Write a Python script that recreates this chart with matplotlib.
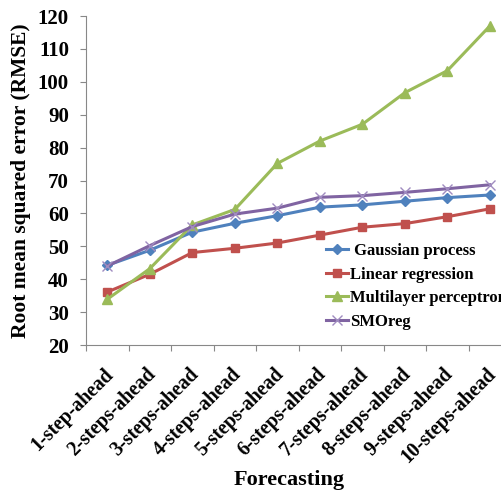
import matplotlib
matplotlib.use("Agg")
import matplotlib.pyplot as plt
from matplotlib.transforms import ScaledTranslation

plt.rcParams['font.family'] = ['Liberation Serif', 'DejaVu Serif']
plt.rcParams['font.weight'] = 'bold'

steps = ["1-step-ahead", "2-steps-ahead", "3-steps-ahead", "4-steps-ahead",
         "5-steps-ahead", "6-steps-ahead", "7-steps-ahead", "8-steps-ahead",
         "9-steps-ahead", "10-steps-ahead"]
gaussian = [44.2, 48.8, 54.3, 57.0, 59.3, 61.9, 62.6, 63.7, 64.8, 65.6]
linear = [36.1, 41.5, 48.1, 49.4, 51.0, 53.4, 55.8, 56.9, 59.0, 61.4]
mlp = [33.9, 43.2, 56.5, 61.2, 75.2, 82.0, 87.1, 96.7, 103.4, 117.0]
smoreg = [44.0, 50.2, 56.0, 59.8, 61.6, 64.9, 65.4, 66.4, 67.5, 68.7]

fig = plt.figure(figsize=(5.02, 4.93), dpi=100)
ax = fig.add_axes([0.1713, 0.3002, 0.847, 0.6673])

x = range(len(steps))
ax.plot(x, gaussian, color="#4F81BD", lw=2.2, marker="D", ms=5, label=" Gaussian process")
ax.plot(x, linear, color="#C0504D", lw=2.2, marker="s", ms=6, label="Linear regression")
ax.plot(x, mlp, color="#9BBB59", lw=2.2, marker="^", ms=7, label="Multilayer perceptron")
ax.plot(x, smoreg, color="#8064A2", lw=2.2, marker="x", ms=7, mew=1,
        mec="#A08CC0", label="SMOreg")

ax.set_xlim(-0.5, len(steps) - 0.5)
ax.set_ylim(20, 120)
ax.set_yticks(range(20, 121, 10))
# category boundaries get the tick marks, centres get the labels
ax.set_xticks([i - 0.5 for i in range(len(steps) + 1)])
ax.set_xticklabels([])
ax.set_xticks(list(x), minor=True)
ax.set_xticklabels(steps, minor=True, rotation=45, ha="right", rotation_mode="anchor",
                   fontsize=14.3, fontweight="bold")
ax.tick_params(axis="x", which="minor", length=0, pad=9)
ax.tick_params(axis="x", which="major", length=4.3, color="#888888")
ax.tick_params(axis="y", length=4.3, color="#888888", labelsize=15, pad=8)
for lab in ax.get_yticklabels():
    lab.set_fontweight("bold")
shift = ScaledTranslation(-4 / 100, -7 / 100, fig.dpi_scale_trans)
for lab in ax.get_xticklabels(minor=True):
    lab.set_transform(lab.get_transform() + shift)

for side in ["top", "right"]:
    ax.spines[side].set_visible(False)
for side in ["left", "bottom"]:
    ax.spines[side].set_color("#888888")

ax.set_ylabel("Root mean squared error (RMSE)", fontsize=15.5, fontweight="bold", labelpad=5)
ax.set_xlabel("Forecasting", fontsize=16, fontweight="bold")
ax.xaxis.set_label_coords(0.478, -0.38)

ax.legend(loc="upper left", bbox_to_anchor=(0.637, 0.52), bbox_transform=fig.transFigure,
          frameon=False, fontsize=12, handlelength=1.3, handletextpad=0.1,
          labelspacing=0.45, borderaxespad=0)

fig.savefig("out.png", dpi=100)
